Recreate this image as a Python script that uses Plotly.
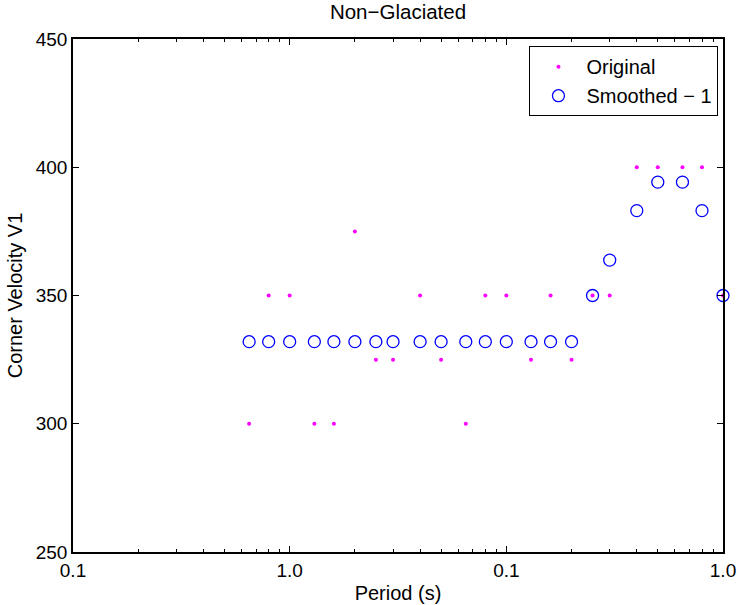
import plotly.graph_objects as go

period = [0.65, 0.8, 1.0, 1.3, 1.6, 2.0, 2.5, 3.0, 4.0, 5.0, 6.5, 8.0, 10.0,
          13.0, 16.0, 20.0, 25.0, 30.0, 40.0, 50.0, 65.0, 80.0, 100.0]
original = [300, 350, 350, 300, 300, 375, 325, 325, 350, 325, 300, 350, 350,
            325, 350, 325, 350, 350, 400, 400, 400, 400, 350]
smoothed = [332, 332, 332, 332, 332, 332, 332, 332, 332, 332, 332, 332, 332,
            332, 332, 332, 350, 363.8, 383.1, 394.2, 394.2, 383.1, 350]
x_tickvals = [0.1, 1, 10, 100]
x_ticktext = ["0.1", "1.0", "0.1", "1.0"]
y_tickvals = [250, 300, 350, 400, 450]

# minor log ticks (2..9 within each decade)
x_minor = [m * d for d in (0.1, 1, 10) for m in range(2, 10)]

FONT = "Liberation Sans, Arial, Helvetica, sans-serif"

fig = go.Figure()
fig.add_trace(go.Scatter(
    x=period, y=original, mode="markers", name="Original",
    marker=dict(symbol="circle", size=4, color="#ff00ff", line=dict(width=0)),
    cliponaxis=False,
))
fig.add_trace(go.Scatter(
    x=period, y=smoothed, mode="markers", name="Smoothed \u2212 1",
    marker=dict(symbol="circle-open", size=12, color="#0000ff",
                line=dict(width=1.3, color="#0000ff")),
    cliponaxis=False,
))

axis_common = dict(
    showline=True, linecolor="black", linewidth=1.5, mirror="ticks",
    ticks="inside", ticklen=6, tickwidth=1, tickcolor="black",
    showgrid=False, zeroline=False, automargin=False,
    tickfont=dict(family=FONT, size=19, color="black"),
)

fig.update_layout(
    width=740, height=605,
    margin=dict(l=73, r=17, t=39, b=53),
    paper_bgcolor="white", plot_bgcolor="white",
    font=dict(family=FONT, size=19, color="black"),
    title=dict(text="Non\u2212Glaciated", x=0.5, xanchor="center", xref="paper",
               y=1 - 12 / 605, yanchor="middle",
               font=dict(family=FONT, size=20.5, color="black")),
    xaxis=dict(
        type="log", range=[-1, 2],
        tickmode="array", tickvals=x_tickvals, ticktext=x_ticktext,
        ticklabelstandoff=0,
        minor=dict(ticks="inside", ticklen=3, tickwidth=1, tickcolor="black",
                   showgrid=False, tickmode="array", tickvals=x_minor),
        title=dict(text="Period (s)", standoff=6,
                   font=dict(family=FONT, size=20, color="black")),
        **axis_common,
    ),
    yaxis=dict(
        range=[250, 450], tickmode="array", tickvals=y_tickvals,
        title=dict(text="Corner Velocity V1", standoff=8,
                   font=dict(family=FONT, size=20, color="black")),
        **axis_common,
    ),
    legend=dict(
        x=0.993, xanchor="right", y=0.986, yanchor="top",
        bgcolor="white", bordercolor="black", borderwidth=1,
        font=dict(family=FONT, size=20, color="black"),
        itemsizing="trace", itemwidth=46,
        tracegroupgap=0,
    ),
    showlegend=True,
)

fig.write_html("out.html")
